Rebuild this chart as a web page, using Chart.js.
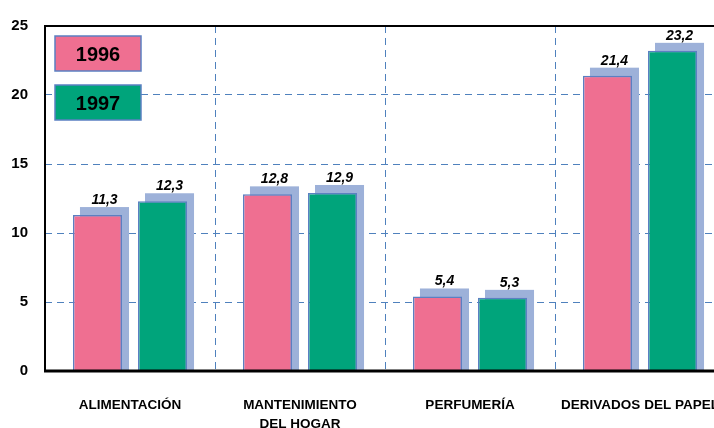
<!DOCTYPE html>
<html>
<head>
<meta charset="utf-8">
<script src="https://cdn.jsdelivr.net/npm/chart.js@4"></script>
<style>
  html, body { margin: 0; padding: 0; background: #fff; overflow: hidden; width: 714px; height: 428px; }
  #wrap { width: 820px; height: 428px; }
</style>
</head>
<body>
<div id="wrap"><canvas id="myChart" width="820" height="428"></canvas></div>
<script>
// datos
const categorias = ['ALIMENTACIÓN', ['MANTENIMIENTO', 'DEL HOGAR'], 'PERFUMERÍA', 'DERIVADOS DEL PAPEL'];
const valores1996 = [11.3, 12.8, 5.4, 21.4];
const valores1997 = [12.3, 12.9, 5.3, 23.2];
const ticksY = [0, 5, 10, 15, 20, 25];

const rosa = '#EF6F91';
const verde = '#00A47B';
const sombra = '#9DB1D9';
const bordeAzul = '#5B80C2';
const rejilla = '#4F81BD';

function formatoComa(v) {
  return v.toFixed(1).replace('.', ',');
}

// sombra desplazada detras de cada barra
const sombraBarras = {
  id: 'sombraBarras',
  beforeDatasetsDraw(chart) {
    const ctx = chart.ctx;
    ctx.save();
    ctx.fillStyle = sombra;
    chart.data.datasets.forEach((ds, i) => {
      chart.getDatasetMeta(i).data.forEach(bar => {
        const p = bar.getProps(['x', 'y', 'base', 'width'], true);
        ctx.fillRect(p.x - p.width / 2 + 7, p.y - 8, p.width, p.base - p.y + 8);
      });
    });
    ctx.restore();
  }
};

// etiquetas de valor, marco y leyenda
const extras = {
  id: 'extras',
  afterDatasetsDraw(chart) {
    const ctx = chart.ctx;
    const a = chart.chartArea;
    ctx.save();

    ctx.fillStyle = '#000';
    ctx.font = 'italic bold 14px "Liberation Sans", Arial, sans-serif';
    ctx.textAlign = 'center';
    ctx.textBaseline = 'bottom';
    chart.data.datasets.forEach((ds, i) => {
      chart.getDatasetMeta(i).data.forEach((bar, j) => {
        const p = bar.getProps(['x', 'y'], true);
        ctx.fillText(formatoComa(ds.data[j]), p.x + 7, p.y - 8);
      });
    });

    ctx.strokeStyle = '#000';
    ctx.lineWidth = 2;
    ctx.beginPath();
    ctx.moveTo(a.right + 5, a.top);
    ctx.lineTo(a.left, a.top);
    ctx.lineTo(a.left, a.bottom);
    ctx.stroke();
    ctx.lineWidth = 3;
    ctx.beginPath();
    ctx.moveTo(a.left - 1, a.bottom);
    ctx.lineTo(a.right + 5, a.bottom);
    ctx.stroke();

    // leyenda
    chart.data.datasets.forEach((ds, i) => {
      const x = a.left + 10;
      const y = a.top + 10 + i * 49;
      ctx.fillStyle = ds.backgroundColor;
      ctx.fillRect(x, y, 86, 35);
      ctx.strokeStyle = bordeAzul;
      ctx.lineWidth = 1.5;
      ctx.strokeRect(x, y, 86, 35);
      ctx.fillStyle = '#000';
      ctx.font = 'bold 20px "Liberation Sans", Arial, sans-serif';
      ctx.textAlign = 'center';
      ctx.textBaseline = 'middle';
      ctx.fillText(ds.label, x + 43, y + 19);
    });
    ctx.restore();
  }
};

const ctx = document.getElementById('myChart');
new Chart(ctx, {
  type: 'bar',
  data: {
    labels: categorias,
    datasets: [{
      label: '1996',
      data: valores1996,
      backgroundColor: rosa,
      borderColor: bordeAzul,
      borderWidth: 1.5,
      barPercentage: 0.754,
      categoryPercentage: 0.765
    }, {
      label: '1997',
      data: valores1997,
      backgroundColor: verde,
      borderColor: bordeAzul,
      borderWidth: 1.5,
      barPercentage: 0.754,
      categoryPercentage: 0.765
    }]
  },
  options: {
    responsive: false,
    animation: false,
    layout: { padding: { top: 23, right: 95, left: 0, bottom: 0 } },
    plugins: {
      legend: { display: false },
      tooltip: { enabled: false }
    },
    scales: {
      x: {
        grid: {
          offset: true,
          drawTicks: false,
          color: c => (c.index === 0 ? 'rgba(0,0,0,0)' : rejilla),
          lineWidth: 1
        },
        border: { display: false, dash: [7, 5] },
        ticks: {
          color: '#000',
          padding: 24,
          maxRotation: 0,
          autoSkip: false,
          font: { family: '"Liberation Sans", Arial, sans-serif', size: 13.5, weight: 'bold', lineHeight: 1.45 }
        },
        afterFit: s => { s.height = 57; }
      },
      y: {
        min: 0,
        max: 25,
        afterBuildTicks: s => { s.ticks = ticksY.map(v => ({ value: v })); },
        grid: {
          drawTicks: false,
          color: c => (c.tick.value === 0 || c.tick.value === 25 ? 'rgba(0,0,0,0)' : rejilla),
          lineWidth: 1
        },
        border: { display: false, dash: [7, 5] },
        ticks: {
          color: '#000',
          padding: 17,
          font: { family: '"Liberation Sans", Arial, sans-serif', size: 15, weight: 'bold' }
        },
        afterFit: s => { s.width = 45; }
      }
    }
  },
  plugins: [sombraBarras, extras]
});
</script>
</body>
</html>
